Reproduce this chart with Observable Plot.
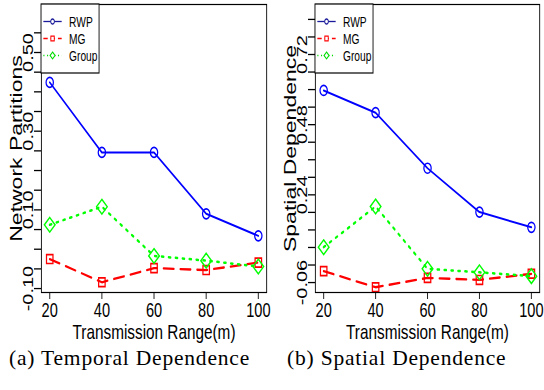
<!DOCTYPE html>
<html>
<head>
<meta charset="utf-8">
<script src="https://cdn.jsdelivr.net/npm/d3@7"></script>
<script src="https://cdn.jsdelivr.net/npm/@observablehq/plot@0.6"></script>
<style>
html,body{margin:0;padding:0;background:#fff;}
#root{position:relative;width:544px;height:390px;overflow:hidden;background:#fff;}
.panel{position:absolute;top:0;width:373px;height:345px;transform-origin:0 0;transform:scaleX(0.73);}
.cap{position:absolute;top:348px;font-family:"Liberation Serif","Times New Roman",serif;font-size:21.5px;line-height:21.5px;letter-spacing:0.8px;white-space:nowrap;transform:translateX(-50%);color:#000;}
</style>
</head>
<body>
<div id="root"></div>
<script>
// ---- data ----
const ranges = [20, 40, 60, 80, 100];
const seriesNames = ["RWP", "MG", "Group"];
const temporalRWP   = [0.424, 0.246, 0.246, 0.090, 0.034];
const temporalMG    = [-0.025, -0.084, -0.048, -0.053, -0.034];
const temporalGroup = [0.062, 0.108, -0.017, -0.029, -0.044];
const spatialRWP    = [0.597, 0.521, 0.331, 0.181, 0.129];
const spatialMG     = [-0.021, -0.076, -0.044, -0.051, -0.030];
const spatialGroup  = [0.061, 0.200, -0.013, -0.025, -0.038];
const temporalTicks = [-0.10, -0.05, 0, 0.05, 0.10, 0.15, 0.20, 0.25, 0.30, 0.35, 0.40, 0.45, 0.50, 0.55];
const temporalTickLabels = ["-0.10", "0.10", "0.30", "0.50"];
const spatialTicks = [-0.06, 0, 0.06, 0.12, 0.18, 0.24, 0.30, 0.36, 0.42, 0.48, 0.54, 0.60, 0.66, 0.72, 0.78, 0.84];
const spatialTickLabels = ["-0.06", "0.24", "0.48", "0.72"];
const xLabel = "Transmission Range(m)";
const yLabels = ["Network Partitions", "Spatial Dependence"];
const captions = ["(a) Temporal Dependence", "(b) Spatial Dependence"];

// ---- styles ----
const styles = {
  RWP:   {color: "#0000FF", legendColor: "#1a1a9a", width: 2,   dash: null,     symbol: d3.symbolCircle,   r: 5,   legendDash: null,      legendSize: 20},
  MG:    {color: "#FF0000", legendColor: "#FF0000", width: 2.3, dash: "14,9",   symbol: d3.symbolSquare,   r: 5,   legendDash: "6,4",     legendSize: 22},
  Group: {color: "#00FF00", legendColor: "#00DD00", width: 2.5, dash: "2.5,7",  symbol: d3.symbolDiamond2, r: 6.6, legendDash: "1.5,3.5", legendSize: 30}
};

function makePanel(cfg) {
  const rows = [];
  cfg.series.forEach((vals, k) => vals.forEach((v, i) => rows.push({series: seriesNames[k], x: ranges[i], y: v})));
  const marks = [];
  seriesNames.forEach(name => {
    const st = styles[name];
    const d = rows.filter(r => r.series === name);
    marks.push(Plot.line(d, {x: "x", y: "y", stroke: st.color, strokeWidth: st.width, strokeDasharray: st.dash}));
    marks.push(Plot.dot(d, {x: "x", y: "y", stroke: st.color, strokeWidth: 1.7, fill: "none", symbol: st.symbol, r: st.r}));
  });
  marks.push(Plot.frame({stroke: "#000", strokeWidth: 1.2}));
  marks.push(Plot.axisX({ticks: ranges, tickSize: 7, tickPadding: 3, fontSize: 20, label: null, tickFormat: d => String(d)}));
  marks.push(Plot.axisY({ticks: cfg.ticks, tickSize: 9.6, tickFormat: () => "", label: null, strokeWidth: 1.3}));
  marks.push(Plot.text(cfg.tickLabels, {y: d => +d, text: d => d, frameAnchor: "left", dx: -11, rotate: -90, textAnchor: "middle", lineAnchor: "bottom", fontSize: 20}));
  marks.push(Plot.text([cfg.yLabel], {frameAnchor: "left", dx: -26, rotate: -90, textAnchor: "middle", lineAnchor: "bottom", fontSize: 23}));
  marks.push(Plot.text([xLabel], {frameAnchor: "bottom", dy: 46.5, lineAnchor: "bottom", fontSize: 21}));
  const svg = Plot.plot({
    width: 373, height: 345,
    marginLeft: cfg.marginLeft, marginRight: cfg.marginRight, marginTop: 4, marginBottom: 53,
    x: {domain: [16.8, 103.2], label: null},
    y: {domain: cfg.domain, label: null},
    style: {fontFamily: "'Liberation Sans', Arial, Helvetica, sans-serif", color: "#000", background: "transparent", overflow: "visible"},
    marks
  });
  // legend box (top-left corner of the frame)
  const g = d3.select(svg).append("g").attr("transform", `translate(${cfg.marginLeft},4)`);
  g.append("rect").attr("width", 79.5).attr("height", 69).attr("fill", "#fff").attr("stroke", "#000").attr("stroke-width", 1.2);
  seriesNames.forEach((name, k) => {
    const st = styles[name];
    const y = 17.5 + 17 * k;
    g.append("line").attr("x1", 3.2).attr("x2", 28.3).attr("y1", y).attr("y2", y)
      .attr("stroke", st.legendColor).attr("stroke-width", 1.3).attr("stroke-dasharray", st.legendDash);
    g.append("path").attr("d", d3.symbol(st.symbol, st.legendSize)()).attr("transform", `translate(15.8,${y})`)
      .attr("fill", "#fff").attr("stroke", st.legendColor).attr("stroke-width", 1.3);
    g.append("text").attr("x", 38.4).attr("y", y).attr("dy", "0.36em").attr("text-anchor", "start")
      .attr("font-size", 14).attr("fill", "#000").text(name);
  });
  return svg;
}

const root = document.getElementById("root");
const panels = [
  {left: 0, series: [temporalRWP, temporalMG, temporalGroup], ticks: temporalTicks, tickLabels: temporalTickLabels,
   domain: [-0.110, 0.622], marginLeft: 56.2, marginRight: 8.2, yLabel: yLabels[0]},
  {left: 272, series: [spatialRWP, spatialMG, spatialGroup], ticks: spatialTicks, tickLabels: spatialTickLabels,
   domain: [-0.094, 0.891], marginLeft: 58.9, marginRight: 6.8, yLabel: yLabels[1]}
];
panels.forEach(p => {
  const div = document.createElement("div");
  div.className = "panel";
  div.style.left = p.left + "px";
  div.appendChild(makePanel(p));
  root.appendChild(div);
});
[129.5, 396.7].forEach((cx, i) => {
  const c = document.createElement("div");
  c.className = "cap";
  c.style.left = cx + "px";
  c.textContent = captions[i];
  root.appendChild(c);
});
</script>
</body>
</html>
